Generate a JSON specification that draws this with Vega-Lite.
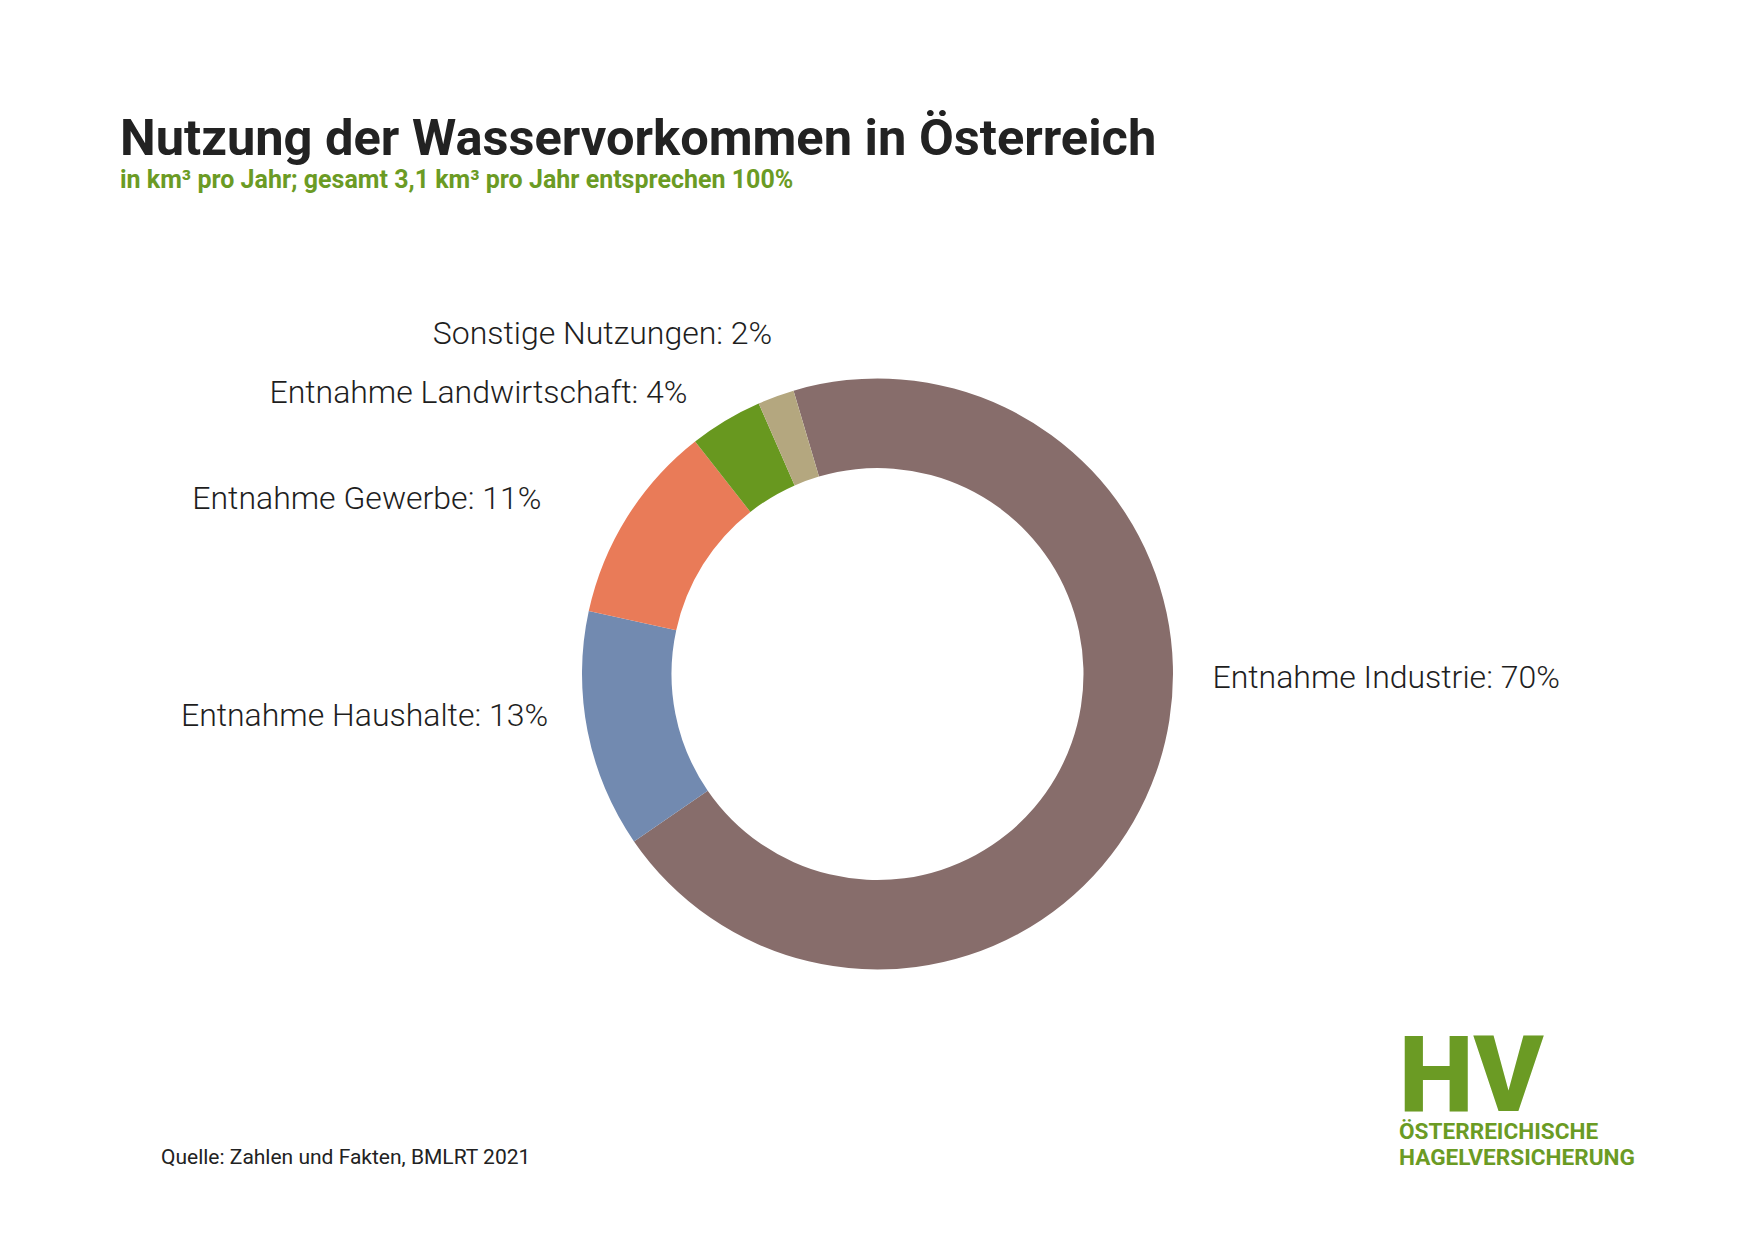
{
  "$schema": "https://vega.github.io/schema/vega-lite/v6.json",
  "background": "white",
  "padding": {"top": 115, "left": 0, "right": 0, "bottom": 0},
  "config": {"view": {"stroke": null}, "font": "Roboto"},
  "title": {
    "text": "Nutzung der Wasservorkommen in Österreich",
    "subtitle": "in km³ pro Jahr; gesamt 3,1 km³ pro Jahr entsprechen 100%",
    "anchor": "start",
    "dx": 120,
    "offset": 101,
    "font": "Roboto",
    "fontSize": 50.6,
    "fontWeight": "bold",
    "color": "#222222",
    "subtitleFont": "Roboto",
    "subtitleFontSize": 25,
    "subtitleFontWeight": "bold",
    "subtitleColor": "#6b9b24",
    "subtitlePadding": 2
  },
  "datasets": {
    "water": [
      {"category": "Entnahme Industrie", "pct": 70, "order": 1, "label": "Entnahme Industrie: 70%"},
      {"category": "Entnahme Haushalte", "pct": 13, "order": 2, "label": "Entnahme Haushalte: 13%"},
      {"category": "Entnahme Gewerbe", "pct": 11, "order": 3, "label": "Entnahme Gewerbe: 11%"},
      {"category": "Entnahme Landwirtschaft", "pct": 4, "order": 4, "label": "Entnahme Landwirtschaft: 4%"},
      {"category": "Sonstige Nutzungen", "pct": 2, "order": 5, "label": "Sonstige Nutzungen: 2%"}
    ],
    "footer": [{"note": "Quelle: Zahlen und Fakten, BMLRT 2021"}]
  },
  "bounds": "flush",
  "spacing": 119,
  "vconcat": [
    {
      "width": 1755,
      "height": 760,
      "data": {"name": "water"},
      "title": {
        "text": "HV",
        "subtitle": ["ÖSTERREICHISCHE", "HAGELVERSICHERUNG"],
        "orient": "bottom",
        "anchor": "end",
        "align": "left",
        "frame": "group",
        "dx": -356,
        "offset": -27,
        "font": "Roboto",
        "fontSize": 106,
        "fontWeight": 900,
        "color": "#6b9b24",
        "subtitleFont": "Roboto",
        "subtitleFontSize": 22.6,
        "subtitleFontWeight": "bold",
        "subtitleColor": "#6b9b24",
        "subtitlePadding": -12,
        "subtitleLineHeight": 26
      },
      "layer": [
        {
          "mark": {"type": "arc", "innerRadius": 206, "outerRadius": 295.5, "stroke": null},
          "encoding": {
            "theta": {"field": "pct", "type": "quantitative", "stack": true, "scale": {"range": [-0.288, 5.995]}},
            "color": {
              "field": "category",
              "type": "nominal",
              "scale": {
                "domain": ["Entnahme Industrie", "Entnahme Haushalte", "Entnahme Gewerbe", "Entnahme Landwirtschaft", "Sonstige Nutzungen"],
                "range": ["#876d6b", "#728ab0", "#e97b58", "#68981f", "#b4a77f"]
              },
              "legend": null
            },
            "order": {"field": "order", "type": "quantitative"}
          }
        },
        {
          "mark": {"type": "text", "radius": 332, "align": "right", "baseline": "middle", "font": "Roboto", "fontSize": 32, "fontWeight": 300, "color": "#1e1e1e"},
          "encoding": {
            "theta": {"field": "pct", "type": "quantitative", "stack": true, "scale": {"range": [-0.2199, 6.0633]}},
            "detail": {"field": "category", "type": "nominal"},
            "order": {"field": "order", "type": "quantitative"},
            "text": {"condition": {"test": "datum.category === 'Entnahme Haushalte'", "field": "label", "type": "nominal"}, "value": ""}
          }
        },
        {
          "mark": {"type": "text", "radius": 339, "align": "right", "baseline": "middle", "font": "Roboto", "fontSize": 32, "fontWeight": 300, "color": "#1e1e1e"},
          "encoding": {
            "theta": {"field": "pct", "type": "quantitative", "stack": true, "scale": {"range": [-0.3438, 5.9394]}},
            "detail": {"field": "category", "type": "nominal"},
            "order": {"field": "order", "type": "quantitative"},
            "text": {"condition": {"test": "datum.category === 'Entnahme Landwirtschaft'", "field": "label", "type": "nominal"}, "value": ""}
          }
        },
        {
          "mark": {"type": "text", "radius": 379, "align": "right", "baseline": "middle", "font": "Roboto", "fontSize": 32, "fontWeight": 300, "color": "#1e1e1e"},
          "encoding": {
            "theta": {"field": "pct", "type": "quantitative", "stack": true, "scale": {"range": [-0.3683, 5.9149]}},
            "detail": {"field": "category", "type": "nominal"},
            "order": {"field": "order", "type": "quantitative"},
            "text": {"condition": {"test": "datum.category === 'Entnahme Gewerbe'", "field": "label", "type": "nominal"}, "value": ""}
          }
        },
        {
          "mark": {"type": "text", "radius": 356, "align": "right", "baseline": "middle", "font": "Roboto", "fontSize": 32, "fontWeight": 300, "color": "#1e1e1e"},
          "encoding": {
            "theta": {"field": "pct", "type": "quantitative", "stack": true, "scale": {"range": [-0.2374, 6.0458]}},
            "detail": {"field": "category", "type": "nominal"},
            "order": {"field": "order", "type": "quantitative"},
            "text": {"condition": {"test": "datum.category === 'Sonstige Nutzungen'", "field": "label", "type": "nominal"}, "value": ""}
          }
        },
        {
          "mark": {"type": "text", "radius": 335, "align": "left", "baseline": "middle", "font": "Roboto", "fontSize": 32, "fontWeight": 300, "color": "#1e1e1e"},
          "encoding": {
            "theta": {"field": "pct", "type": "quantitative", "stack": true, "scale": {"range": [-0.616, 5.667]}},
            "detail": {"field": "category", "type": "nominal"},
            "order": {"field": "order", "type": "quantitative"},
            "text": {"condition": {"test": "datum.category === 'Entnahme Industrie'", "field": "label", "type": "nominal"}, "value": ""}
          }
        }
      ],
      "resolve": {"scale": {"theta": "independent"}}
    },
    {
      "width": 1755,
      "height": 1,
      "data": {"name": "footer"},
      "title": {
        "text": "Quelle: Zahlen und Fakten, BMLRT 2021",
        "anchor": "start",
        "frame": "group",
        "dx": 161,
        "offset": 0,
        "font": "Roboto",
        "fontSize": 21,
        "fontWeight": "normal",
        "color": "#222222"
      },
      "mark": {"type": "text", "opacity": 0},
      "encoding": {"text": {"field": "note", "type": "nominal"}}
    }
  ]
}
